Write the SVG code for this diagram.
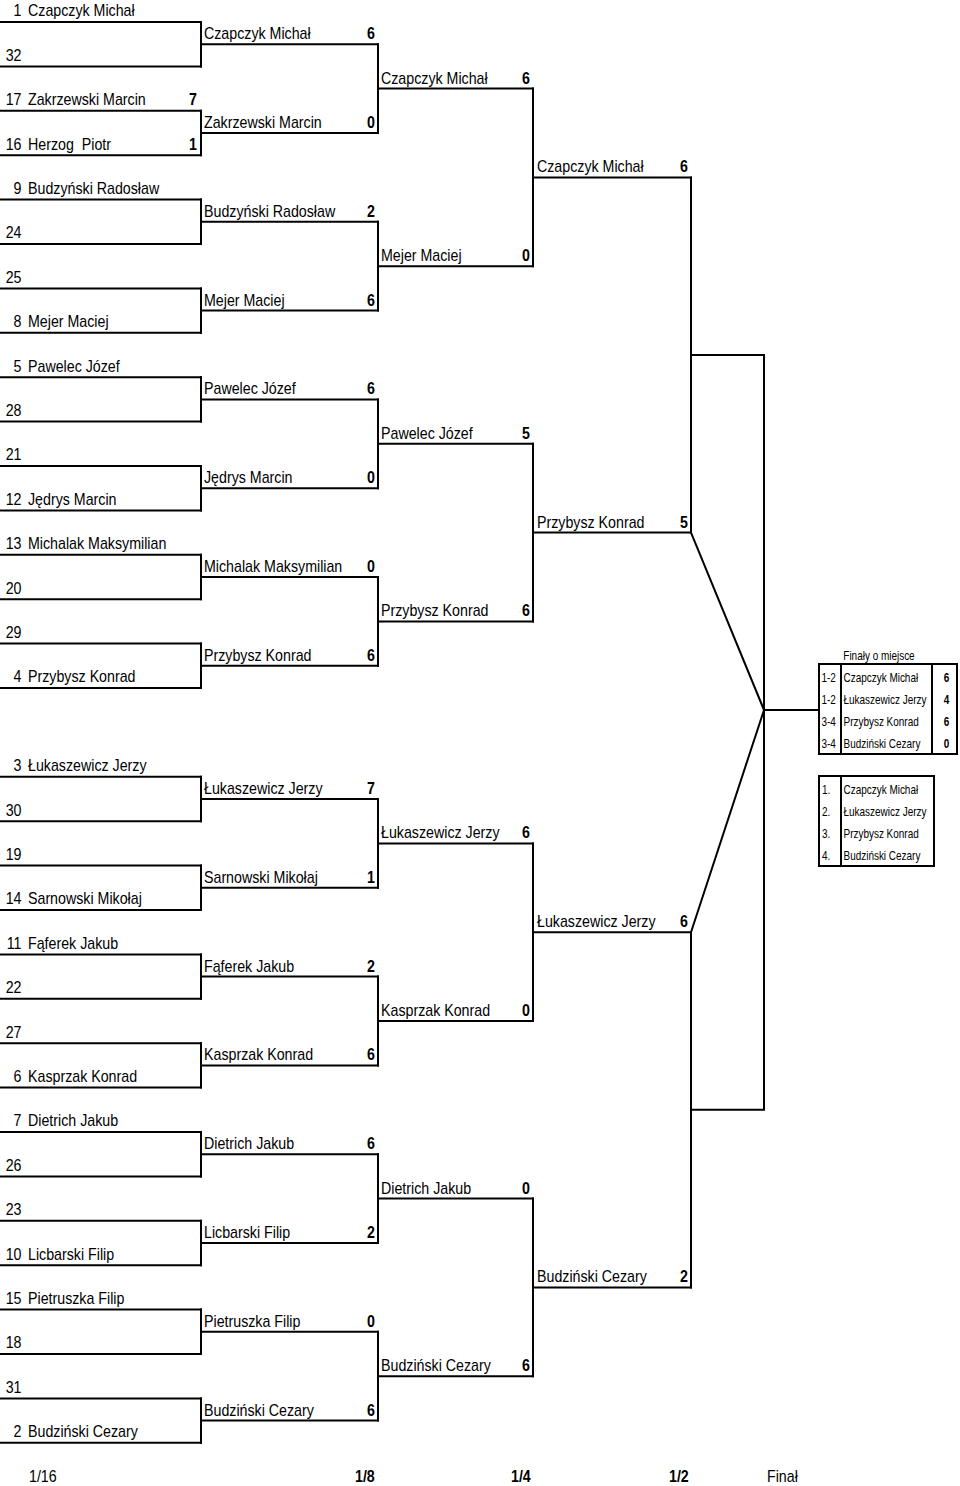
<svg xmlns="http://www.w3.org/2000/svg" width="960" height="1486" viewBox="0 0 960 1486">
<style>
.ln{stroke:#000;stroke-width:2;fill:none;stroke-linecap:square}
text{font-family:"Liberation Sans",Arial,sans-serif;fill:#000;transform-box:fill-box}
.n{font-size:16px;transform-origin:0 0;transform:scaleX(.89)}
.s{font-size:16px;text-anchor:end;transform-origin:100% 0;transform:scaleX(.89)}
.sc{font-size:16px;font-weight:bold;text-anchor:end;transform-origin:100% 0;transform:scaleX(.89)}
.t{font-size:12px;transform-origin:0 0;transform:scaleX(.83)}
.tm{font-size:12px;text-anchor:middle;transform-origin:50% 0;transform:scaleX(.83)}
.tb{font-size:12px;font-weight:bold;text-anchor:middle;transform-origin:50% 0;transform:scaleX(.83)}
.lb{font-size:16px;transform-origin:0 0;transform:scaleX(.89)}
.lbb{font-size:16px;font-weight:bold;transform-origin:0 0;transform:scaleX(.89)}
</style>

<g id="connectors" class="ln">
<path d="M201 22V66.4M201 110.8V155.2M201 199.6V244M201 288.4V332.8M201 377.2V421.6M201 466V510.4M201 554.8V599.2M201 643.6V688M201 776.8V821.2M201 865.6V910M201 954.4V998.8M201 1043.2V1087.6M201 1132V1176.4M201 1220.8V1265.2M201 1309.6V1354M201 1398.4V1442.8"/>
<path d="M378 44.2V133M378 221.8V310.6M378 399.4V488.2M378 577V665.8M378 799V887.8M378 976.6V1065.4M378 1154.2V1243M378 1331.8V1420.6"/>
<path d="M533 88.6V266.2M533 443.8V621.4M533 843.4V1021M533 1198.6V1376.2"/>
<path d="M691 177.4V532.6M691 932.2V1287.4"/>
<path d="M691 355H764M691 1109.8H764M764 355V1109.8"/>
<path d="M691 532.6L764 710L691 932.2M764 710H819" stroke-linejoin="miter"/>
</g>

<g id="r1">
<g id="r1-0"><path class="ln" d="M0 22H201"/><text class="s" x="21.5" y="16.5">1</text><text class="n" x="28" y="16.5">Czapczyk Michał</text></g>
<g id="r1-1"><path class="ln" d="M0 66.4H201"/><text class="s" x="21.5" y="60.9">32</text></g>
<g id="r1-2"><path class="ln" d="M0 110.8H201"/><text class="s" x="21.5" y="105.3">17</text><text class="n" x="28" y="105.3">Zakrzewski Marcin</text><text class="sc" x="197" y="105.3">7</text></g>
<g id="r1-3"><path class="ln" d="M0 155.2H201"/><text class="s" x="21.5" y="149.7">16</text><text class="n" x="28" y="149.7" xml:space="preserve">Herzog  Piotr</text><text class="sc" x="197" y="149.7">1</text></g>
<g id="r1-4"><path class="ln" d="M0 199.6H201"/><text class="s" x="21.5" y="194.1">9</text><text class="n" x="28" y="194.1">Budzyński Radosław</text></g>
<g id="r1-5"><path class="ln" d="M0 244H201"/><text class="s" x="21.5" y="238.5">24</text></g>
<g id="r1-6"><path class="ln" d="M0 288.4H201"/><text class="s" x="21.5" y="282.9">25</text></g>
<g id="r1-7"><path class="ln" d="M0 332.8H201"/><text class="s" x="21.5" y="327.3">8</text><text class="n" x="28" y="327.3">Mejer Maciej</text></g>
<g id="r1-8"><path class="ln" d="M0 377.2H201"/><text class="s" x="21.5" y="371.7">5</text><text class="n" x="28" y="371.7">Pawelec Józef</text></g>
<g id="r1-9"><path class="ln" d="M0 421.6H201"/><text class="s" x="21.5" y="416.1">28</text></g>
<g id="r1-10"><path class="ln" d="M0 466H201"/><text class="s" x="21.5" y="460.5">21</text></g>
<g id="r1-11"><path class="ln" d="M0 510.4H201"/><text class="s" x="21.5" y="504.9">12</text><text class="n" x="28" y="504.9">Jędrys Marcin</text></g>
<g id="r1-12"><path class="ln" d="M0 554.8H201"/><text class="s" x="21.5" y="549.3">13</text><text class="n" x="28" y="549.3">Michalak Maksymilian</text></g>
<g id="r1-13"><path class="ln" d="M0 599.2H201"/><text class="s" x="21.5" y="593.7">20</text></g>
<g id="r1-14"><path class="ln" d="M0 643.6H201"/><text class="s" x="21.5" y="638.1">29</text></g>
<g id="r1-15"><path class="ln" d="M0 688H201"/><text class="s" x="21.5" y="682.5">4</text><text class="n" x="28" y="682.5">Przybysz Konrad</text></g>
<g id="r1-17"><path class="ln" d="M0 776.8H201"/><text class="s" x="21.5" y="771.3">3</text><text class="n" x="28" y="771.3">Łukaszewicz Jerzy</text></g>
<g id="r1-18"><path class="ln" d="M0 821.2H201"/><text class="s" x="21.5" y="815.7">30</text></g>
<g id="r1-19"><path class="ln" d="M0 865.6H201"/><text class="s" x="21.5" y="860.1">19</text></g>
<g id="r1-20"><path class="ln" d="M0 910H201"/><text class="s" x="21.5" y="904.5">14</text><text class="n" x="28" y="904.5">Sarnowski Mikołaj</text></g>
<g id="r1-21"><path class="ln" d="M0 954.4H201"/><text class="s" x="21.5" y="948.9">11</text><text class="n" x="28" y="948.9">Fąferek Jakub</text></g>
<g id="r1-22"><path class="ln" d="M0 998.8H201"/><text class="s" x="21.5" y="993.3">22</text></g>
<g id="r1-23"><path class="ln" d="M0 1043.2H201"/><text class="s" x="21.5" y="1037.7">27</text></g>
<g id="r1-24"><path class="ln" d="M0 1087.6H201"/><text class="s" x="21.5" y="1082.1">6</text><text class="n" x="28" y="1082.1">Kasprzak Konrad</text></g>
<g id="r1-25"><path class="ln" d="M0 1132H201"/><text class="s" x="21.5" y="1126.5">7</text><text class="n" x="28" y="1126.5">Dietrich Jakub</text></g>
<g id="r1-26"><path class="ln" d="M0 1176.4H201"/><text class="s" x="21.5" y="1170.9">26</text></g>
<g id="r1-27"><path class="ln" d="M0 1220.8H201"/><text class="s" x="21.5" y="1215.3">23</text></g>
<g id="r1-28"><path class="ln" d="M0 1265.2H201"/><text class="s" x="21.5" y="1259.7">10</text><text class="n" x="28" y="1259.7">Licbarski Filip</text></g>
<g id="r1-29"><path class="ln" d="M0 1309.6H201"/><text class="s" x="21.5" y="1304.1">15</text><text class="n" x="28" y="1304.1">Pietruszka Filip</text></g>
<g id="r1-30"><path class="ln" d="M0 1354H201"/><text class="s" x="21.5" y="1348.5">18</text></g>
<g id="r1-31"><path class="ln" d="M0 1398.4H201"/><text class="s" x="21.5" y="1392.9">31</text></g>
<g id="r1-32"><path class="ln" d="M0 1442.8H201"/><text class="s" x="21.5" y="1437.3">2</text><text class="n" x="28" y="1437.3">Budziński Cezary</text></g>
</g>

<g id="r2">
<g id="r2-1"><path class="ln" d="M201 44.2H378"/><text class="n" x="204" y="39.2">Czapczyk Michał</text><text class="sc" x="375" y="39.2">6</text></g>
<g id="r2-2"><path class="ln" d="M201 133H378"/><text class="n" x="204" y="128">Zakrzewski Marcin</text><text class="sc" x="375" y="128">0</text></g>
<g id="r2-3"><path class="ln" d="M201 221.8H378"/><text class="n" x="204" y="216.8">Budzyński Radosław</text><text class="sc" x="375" y="216.8">2</text></g>
<g id="r2-4"><path class="ln" d="M201 310.6H378"/><text class="n" x="204" y="305.6">Mejer Maciej</text><text class="sc" x="375" y="305.6">6</text></g>
<g id="r2-5"><path class="ln" d="M201 399.4H378"/><text class="n" x="204" y="394.4">Pawelec Józef</text><text class="sc" x="375" y="394.4">6</text></g>
<g id="r2-6"><path class="ln" d="M201 488.2H378"/><text class="n" x="204" y="483.2">Jędrys Marcin</text><text class="sc" x="375" y="483.2">0</text></g>
<g id="r2-7"><path class="ln" d="M201 577H378"/><text class="n" x="204" y="572">Michalak Maksymilian</text><text class="sc" x="375" y="572">0</text></g>
<g id="r2-8"><path class="ln" d="M201 665.8H378"/><text class="n" x="204" y="660.8">Przybysz Konrad</text><text class="sc" x="375" y="660.8">6</text></g>
<g id="r2-9"><path class="ln" d="M201 799H378"/><text class="n" x="204" y="794">Łukaszewicz Jerzy</text><text class="sc" x="375" y="794">7</text></g>
<g id="r2-10"><path class="ln" d="M201 887.8H378"/><text class="n" x="204" y="882.8">Sarnowski Mikołaj</text><text class="sc" x="375" y="882.8">1</text></g>
<g id="r2-11"><path class="ln" d="M201 976.6H378"/><text class="n" x="204" y="971.6">Fąferek Jakub</text><text class="sc" x="375" y="971.6">2</text></g>
<g id="r2-12"><path class="ln" d="M201 1065.4H378"/><text class="n" x="204" y="1060.4">Kasprzak Konrad</text><text class="sc" x="375" y="1060.4">6</text></g>
<g id="r2-13"><path class="ln" d="M201 1154.2H378"/><text class="n" x="204" y="1149.2">Dietrich Jakub</text><text class="sc" x="375" y="1149.2">6</text></g>
<g id="r2-14"><path class="ln" d="M201 1243H378"/><text class="n" x="204" y="1238">Licbarski Filip</text><text class="sc" x="375" y="1238">2</text></g>
<g id="r2-15"><path class="ln" d="M201 1331.8H378"/><text class="n" x="204" y="1326.8">Pietruszka Filip</text><text class="sc" x="375" y="1326.8">0</text></g>
<g id="r2-16"><path class="ln" d="M201 1420.6H378"/><text class="n" x="204" y="1415.6">Budziński Cezary</text><text class="sc" x="375" y="1415.6">6</text></g>
</g>

<g id="r3">
<g id="r3-1"><path class="ln" d="M378 88.6H533"/><text class="n" x="381" y="83.6">Czapczyk Michał</text><text class="sc" x="530" y="83.6">6</text></g>
<g id="r3-2"><path class="ln" d="M378 266.2H533"/><text class="n" x="381" y="261.2">Mejer Maciej</text><text class="sc" x="530" y="261.2">0</text></g>
<g id="r3-3"><path class="ln" d="M378 443.8H533"/><text class="n" x="381" y="438.8">Pawelec Józef</text><text class="sc" x="530" y="438.8">5</text></g>
<g id="r3-4"><path class="ln" d="M378 621.4H533"/><text class="n" x="381" y="616.4">Przybysz Konrad</text><text class="sc" x="530" y="616.4">6</text></g>
<g id="r3-5"><path class="ln" d="M378 843.4H533"/><text class="n" x="381" y="838.4">Łukaszewicz Jerzy</text><text class="sc" x="530" y="838.4">6</text></g>
<g id="r3-6"><path class="ln" d="M378 1021H533"/><text class="n" x="381" y="1016">Kasprzak Konrad</text><text class="sc" x="530" y="1016">0</text></g>
<g id="r3-7"><path class="ln" d="M378 1198.6H533"/><text class="n" x="381" y="1193.6">Dietrich Jakub</text><text class="sc" x="530" y="1193.6">0</text></g>
<g id="r3-8"><path class="ln" d="M378 1376.2H533"/><text class="n" x="381" y="1371.2">Budziński Cezary</text><text class="sc" x="530" y="1371.2">6</text></g>
</g>

<g id="r4">
<g id="r4-1"><path class="ln" d="M533 177.4H691"/><text class="n" x="537" y="172.4">Czapczyk Michał</text><text class="sc" x="688" y="172.4">6</text></g>
<g id="r4-2"><path class="ln" d="M533 532.6H691"/><text class="n" x="537" y="527.6">Przybysz Konrad</text><text class="sc" x="688" y="527.6">5</text></g>
<g id="r4-3"><path class="ln" d="M533 932.2H691"/><text class="n" x="537" y="927.2">Łukaszewicz Jerzy</text><text class="sc" x="688" y="927.2">6</text></g>
<g id="r4-4"><path class="ln" d="M533 1287.4H691"/><text class="n" x="537" y="1282.4">Budziński Cezary</text><text class="sc" x="688" y="1282.4">2</text></g>
</g>

<g id="finals">
<text class="tm" x="879" y="660.5">Finały o miejsce</text>
<rect class="ln" x="819" y="664" width="138" height="90"/>
<path class="ln" d="M841 664V754M932 664V754"/>
<text class="t" x="821.5" y="682.5">1-2</text><text class="t" x="843.5" y="682.5">Czapczyk Michał</text><text class="tb" x="946.5" y="682.5">6</text>
<text class="t" x="821.5" y="704.5">1-2</text><text class="t" x="843.5" y="704.5">Łukaszewicz Jerzy</text><text class="tb" x="946.5" y="704.5">4</text>
<text class="t" x="821.5" y="726.5">3-4</text><text class="t" x="843.5" y="726.5">Przybysz Konrad</text><text class="tb" x="946.5" y="726.5">6</text>
<text class="t" x="821.5" y="748.5">3-4</text><text class="t" x="843.5" y="748.5">Budziński Cezary</text><text class="tb" x="946.5" y="748.5">0</text>
</g>

<g id="ranking">
<rect class="ln" x="819" y="776" width="115" height="90"/>
<path class="ln" d="M841 776V866"/>
<text class="t" x="822" y="794.5">1.</text><text class="t" x="843.5" y="794.5">Czapczyk Michał</text>
<text class="t" x="822" y="816.5">2.</text><text class="t" x="843.5" y="816.5">Łukaszewicz Jerzy</text>
<text class="t" x="822" y="838.5">3.</text><text class="t" x="843.5" y="838.5">Przybysz Konrad</text>
<text class="t" x="822" y="860.5">4.</text><text class="t" x="843.5" y="860.5">Budziński Cezary</text>
</g>

<g id="labels">
<text class="lb" x="29" y="1482">1/16</text>
<text class="lbb" x="355" y="1482">1/8</text>
<text class="lbb" x="511" y="1482">1/4</text>
<text class="lbb" x="669" y="1482">1/2</text>
<text class="lb" x="767" y="1482">Finał</text>
</g>
</svg>
